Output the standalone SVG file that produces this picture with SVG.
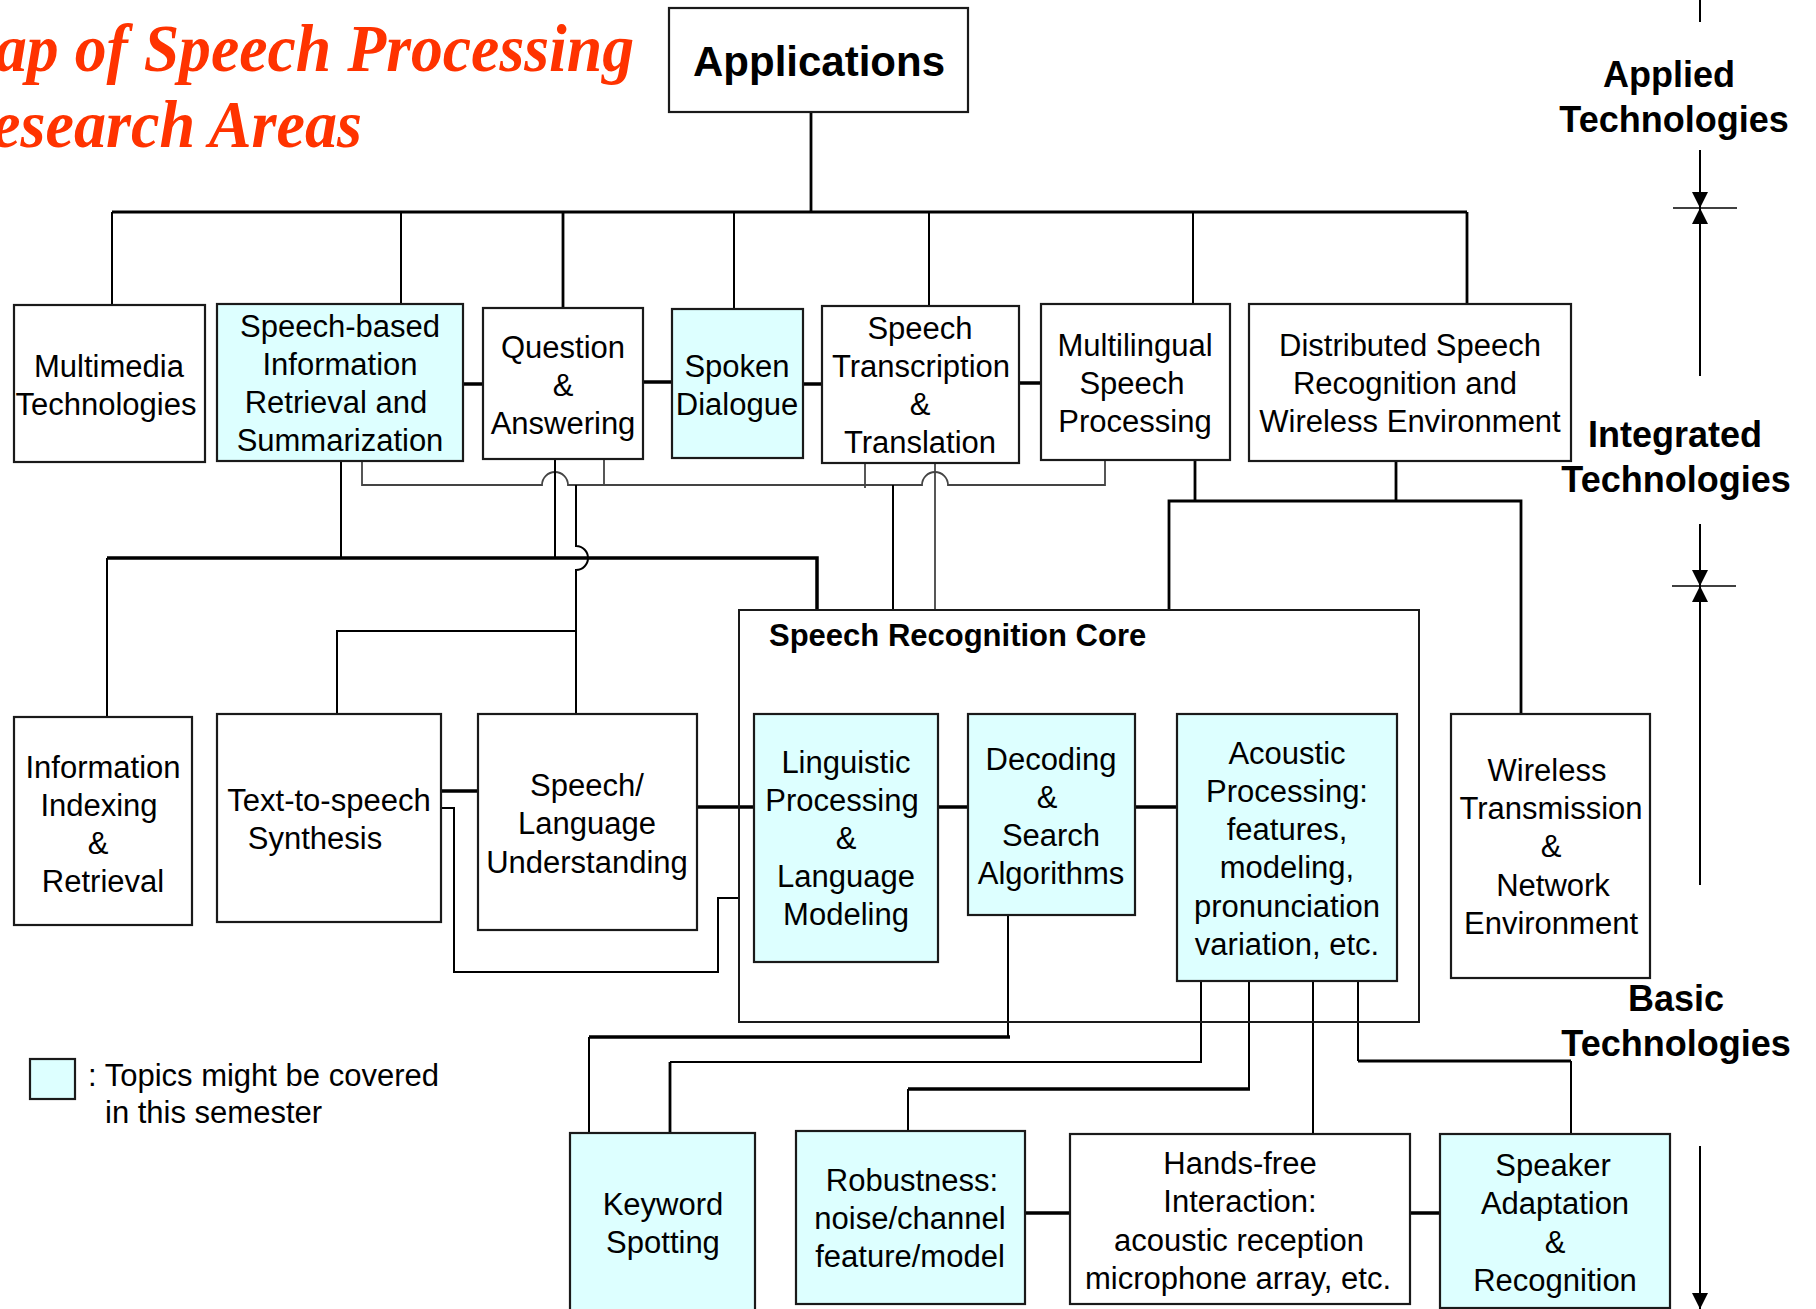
<svg xmlns="http://www.w3.org/2000/svg" width="1816" height="1309" viewBox="0 0 1816 1309">
<defs>
<style>
.box{fill:#ffffff;stroke:#1a1a1a;stroke-width:2.2}
.cy{fill:#ddffff;stroke:#1a1a1a;stroke-width:2.2}
.core{fill:none;stroke:#1a1a1a;stroke-width:2}
.lbl{font-family:"Liberation Sans",Arial,sans-serif;font-size:31px;fill:#000;text-anchor:middle}
.bold{font-family:"Liberation Sans",Arial,sans-serif;font-weight:bold;fill:#000}
.side{font-family:"Liberation Sans",Arial,sans-serif;font-weight:bold;font-size:36px;fill:#000;text-anchor:middle}
.title{font-family:"Liberation Serif","Times New Roman",serif;font-weight:bold;font-style:italic;font-size:68px;fill:#ff3300}
#connectors path{fill:none;stroke:#000;stroke-width:2}
#connectors .t{stroke-width:3.5}
#connectors .m{stroke-width:2.8}
#connectors .g{stroke:#444;stroke-width:1.8}
#axis path{fill:none;stroke:#000;stroke-width:2}
</style>
<marker id="ah" markerUnits="userSpaceOnUse" markerWidth="16" markerHeight="16" refX="16" refY="8" orient="auto">
<path d="M0,0 L16,8 L0,16 z" fill="#000"/>
</marker>
</defs>
<rect width="1816" height="1309" fill="#fff"/>

<g id="title">
<text class="title" x="-5" y="71" textLength="639" lengthAdjust="spacingAndGlyphs">ap of Speech Processing</text>
<text class="title" x="-8" y="147" textLength="370" lengthAdjust="spacingAndGlyphs">esearch Areas</text>
</g>

<g id="connectors">
<path class="m" d="M811,112 V212"/>
<path class="m" d="M112,212 H1467"/>
<path d="M112,212 V305"/>
<path d="M401,212 V304"/>
<path class="m" d="M563,212 V308"/>
<path d="M734,212 V309"/>
<path d="M929,212 V306"/>
<path d="M1193,212 V304"/>
<path class="m" d="M1467,212 V304"/>
<path class="t" d="M464,384 H483"/>
<path class="t" d="M643,382 H672"/>
<path class="t" d="M803,384 H822"/>
<path class="t" d="M1019,383 H1041"/>
<path class="g" d="M362,461 V485 H542 A13,13 0 0 1 568,485 H922 A13,13 0 0 1 948,485 H1105 V460"/>
<path class="g" d="M604,459 V485"/>
<path class="g" d="M865,463 V488"/>
<path d="M341,461 V558"/>
<path d="M555,459 V558"/>
<path class="t" d="M107,558 H817 V610"/>
<path d="M107,558 V717"/>
<path d="M576,485 V546 A12,12 0 0 1 576,570 V714"/>
<path d="M576,631 H337 V714"/>
<path d="M893,485 V610"/>
<path class="g" d="M935,463 V610"/>
<path class="m" d="M1195,460 V501"/>
<path class="m" d="M1396,461 V501"/>
<path class="m" d="M1169,610 V501 H1521 V714"/>
<path class="t" d="M441,791 H478"/>
<path d="M441,808 H454 V972 H718 V898 H739"/>
<path class="t" d="M697,807 H754"/>
<path class="t" d="M938,807 H968"/>
<path class="t" d="M1135,807 H1177"/>
<path d="M1008,915 V1037"/>
<path class="t" d="M1010,1037 H589"/>
<path d="M589,1037 V1133"/>
<path d="M1201,981 V1062 H670"/>
<path class="m" d="M670,1062 V1133"/>
<path d="M1249,981 V1089"/>
<path class="t" d="M1250,1089 H908"/>
<path d="M908,1089 V1131"/>
<path d="M1313,981 V1134"/>
<path d="M1358,981 V1061"/>
<path class="m" d="M1358,1061 H1571"/>
<path d="M1571,1061 V1134"/>
<path class="t" d="M1025,1213 H1070"/>
<path class="t" d="M1410,1213 H1440"/>
</g>

<g id="applications">
<rect class="box" x="669" y="8" width="299" height="104"/>
<text class="bold" x="819" y="76" font-size="42" text-anchor="middle">Applications</text>
</g>

<g id="multimedia">
<rect class="box" x="14" y="305" width="191" height="157"/>
<text class="lbl" x="109" y="377">Multimedia</text>
<text class="lbl" x="106" y="415">Technologies</text>
</g>
<g id="speech-based">
<rect class="cy" x="217" y="304" width="246" height="157"/>
<text class="lbl" x="340" y="337">Speech-based</text>
<text class="lbl" x="340" y="375">Information</text>
<text class="lbl" x="336" y="413">Retrieval and</text>
<text class="lbl" x="340" y="451">Summarization</text>
</g>
<g id="qa">
<rect class="box" x="483" y="308" width="160" height="151"/>
<text class="lbl" x="563" y="358">Question</text>
<text class="lbl" x="563" y="396">&amp;</text>
<text class="lbl" x="563" y="434">Answering</text>
</g>
<g id="spoken-dialogue">
<rect class="cy" x="672" y="309" width="131" height="149"/>
<text class="lbl" x="737" y="377">Spoken</text>
<text class="lbl" x="737" y="415">Dialogue</text>
</g>
<g id="transcription">
<rect class="box" x="822" y="306" width="197" height="157"/>
<text class="lbl" x="920" y="339">Speech</text>
<text class="lbl" x="921" y="377">Transcription</text>
<text class="lbl" x="920" y="415">&amp;</text>
<text class="lbl" x="920" y="453">Translation</text>
</g>
<g id="multilingual">
<rect class="box" x="1041" y="304" width="189" height="156"/>
<text class="lbl" x="1135" y="356">Multilingual</text>
<text class="lbl" x="1132" y="394">Speech</text>
<text class="lbl" x="1135" y="432">Processing</text>
</g>
<g id="distributed">
<rect class="box" x="1249" y="304" width="322" height="157"/>
<text class="lbl" x="1410" y="356">Distributed Speech</text>
<text class="lbl" x="1405" y="394">Recognition and</text>
<text class="lbl" x="1410" y="432">Wireless Environment</text>
</g>

<g id="info-indexing">
<rect class="box" x="14" y="717" width="178" height="208"/>
<text class="lbl" x="103" y="778">Information</text>
<text class="lbl" x="99" y="816">Indexing</text>
<text class="lbl" x="98" y="854">&amp;</text>
<text class="lbl" x="103" y="892">Retrieval</text>
</g>
<g id="tts">
<rect class="box" x="217" y="714" width="224" height="208"/>
<text class="lbl" x="329" y="811">Text-to-speech</text>
<text class="lbl" x="315" y="849">Synthesis</text>
</g>
<g id="slu">
<rect class="box" x="478" y="714" width="219" height="216"/>
<text class="lbl" x="587" y="796">Speech/</text>
<text class="lbl" x="587" y="834">Language</text>
<text class="lbl" x="587" y="873">Understanding</text>
</g>

<g id="recognition-core">
<rect class="core" x="739" y="610" width="680" height="412"/>
<text class="bold" x="769" y="646" font-size="31">Speech Recognition Core</text>
</g>
<g id="linguistic">
<rect class="cy" x="754" y="714" width="184" height="248"/>
<text class="lbl" x="846" y="773">Linguistic</text>
<text class="lbl" x="842" y="811">Processing</text>
<text class="lbl" x="846" y="849">&amp;</text>
<text class="lbl" x="846" y="887">Language</text>
<text class="lbl" x="846" y="925">Modeling</text>
</g>
<g id="decoding">
<rect class="cy" x="968" y="714" width="167" height="201"/>
<text class="lbl" x="1051" y="770">Decoding</text>
<text class="lbl" x="1047" y="808">&amp;</text>
<text class="lbl" x="1051" y="846">Search</text>
<text class="lbl" x="1051" y="884">Algorithms</text>
</g>
<g id="acoustic">
<rect class="cy" x="1177" y="714" width="220" height="267"/>
<text class="lbl" x="1287" y="764">Acoustic</text>
<text class="lbl" x="1287" y="802">Processing:</text>
<text class="lbl" x="1287" y="840">features,</text>
<text class="lbl" x="1287" y="878">modeling,</text>
<text class="lbl" x="1287" y="917">pronunciation</text>
<text class="lbl" x="1287" y="955">variation, etc.</text>
</g>
<g id="wireless">
<rect class="box" x="1451" y="714" width="199" height="264"/>
<text class="lbl" x="1547" y="781">Wireless</text>
<text class="lbl" x="1551" y="819">Transmission</text>
<text class="lbl" x="1551" y="857">&amp;</text>
<text class="lbl" x="1553" y="896">Network</text>
<text class="lbl" x="1551" y="934">Environment</text>
</g>

<g id="keyword">
<rect class="cy" x="570" y="1133" width="185" height="190"/>
<text class="lbl" x="663" y="1215">Keyword</text>
<text class="lbl" x="663" y="1253">Spotting</text>
</g>
<g id="robustness">
<rect class="cy" x="796" y="1131" width="229" height="173"/>
<text class="lbl" x="912" y="1191">Robustness:</text>
<text class="lbl" x="910" y="1229">noise/channel</text>
<text class="lbl" x="910" y="1267">feature/model</text>
</g>
<g id="hands-free">
<rect class="box" x="1070" y="1134" width="340" height="170"/>
<text class="lbl" x="1240" y="1174">Hands-free</text>
<text class="lbl" x="1240" y="1212">Interaction:</text>
<text class="lbl" x="1239" y="1251">acoustic reception</text>
<text class="lbl" x="1238" y="1289">microphone array, etc.</text>
</g>
<g id="speaker">
<rect class="cy" x="1440" y="1134" width="230" height="174"/>
<text class="lbl" x="1553" y="1176">Speaker</text>
<text class="lbl" x="1555" y="1214">Adaptation</text>
<text class="lbl" x="1555" y="1253">&amp;</text>
<text class="lbl" x="1555" y="1291">Recognition</text>
</g>

<g id="legend">
<rect class="cy" x="30" y="1059" width="45" height="40"/>
<text class="lbl" x="88" y="1086" style="text-anchor:start">: Topics might be covered</text>
<text class="lbl" x="105" y="1123" style="text-anchor:start">in this semester</text>
</g>

<g id="axis">
<path d="M1700,0 V22"/>
<path d="M1700,150 V208" marker-end="url(#ah)"/>
<path d="M1673,208 H1737" style="stroke-width:1.6"/>
<path d="M1700,376 V208" marker-end="url(#ah)"/>
<path d="M1700,524 V586" marker-end="url(#ah)"/>
<path d="M1672,586 H1736" style="stroke-width:1.6"/>
<path d="M1700,885 V586" marker-end="url(#ah)"/>
<path d="M1700,1146 V1309" marker-end="url(#ah)"/>
<text class="side" x="1669" y="87">Applied</text>
<text class="side" x="1674" y="132">Technologies</text>
<text class="side" x="1675" y="447">Integrated</text>
<text class="side" x="1676" y="492">Technologies</text>
<text class="side" x="1676" y="1011">Basic</text>
<text class="side" x="1676" y="1056">Technologies</text>
</g>
</svg>
